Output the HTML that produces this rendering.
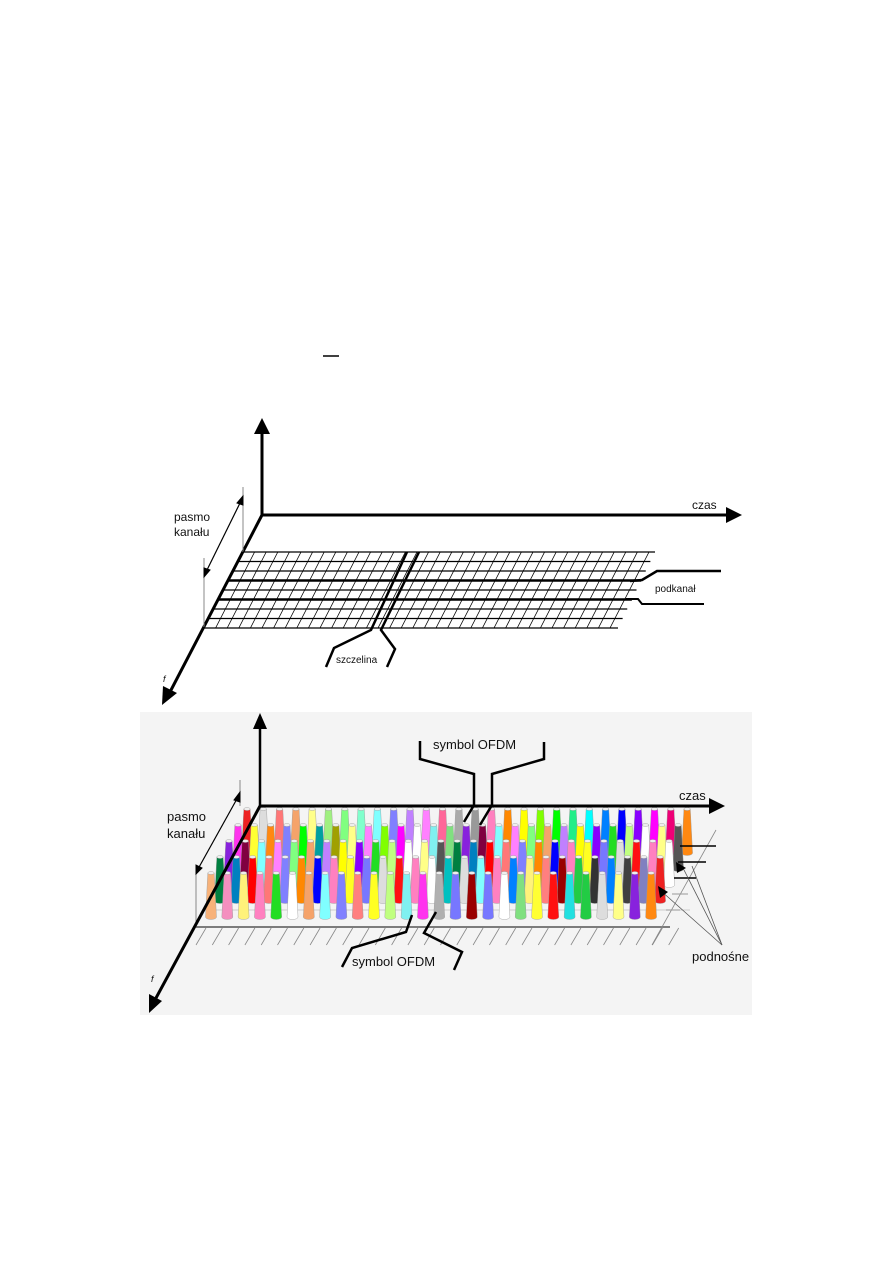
<!DOCTYPE html>
<html><head><meta charset="utf-8"><style>
html,body{margin:0;padding:0;background:#fff;}
svg{display:block;}
text{font-family:"Liberation Sans",sans-serif;fill:#111;}
</style></head><body>
<svg id="s" width="893" height="1263" xmlns="http://www.w3.org/2000/svg">
<line x1="323" y1="356" x2="339" y2="356" stroke="#000" stroke-width="1.5"/>
<!-- TOP DIAGRAM -->
<g id="top" stroke="#000" fill="none">
<line x1="262" y1="515" x2="262" y2="432" stroke-width="3"/>
<polygon points="262,418 254,434 270,434" fill="#000" stroke="none"/>
<line x1="262" y1="515" x2="728" y2="515" stroke-width="3"/>
<polygon points="742,515 726,507 726,523" fill="#000" stroke="none"/>
<line x1="262" y1="515" x2="170" y2="692" stroke-width="3"/>
<polygon points="162,705 163,686 177,693" fill="#000" stroke="none"/>
<line x1="243" y1="487" x2="243" y2="552" stroke="#888" stroke-width="1"/>
<line x1="204" y1="558" x2="204" y2="627" stroke="#888" stroke-width="1"/>
<line x1="241" y1="501" x2="206" y2="572" stroke-width="1.2"/>
<polygon points="243,496 237,503 243,505" fill="#000"/>
<polygon points="204,577 204,568 210,570" fill="#000"/>
<g id="grid"></g>
<polyline points="407,552 371,630 334,648 326,667" stroke-width="2.5"/>
<polyline points="419,552 381,630 395,649 387,667" stroke-width="2.5"/>
<polyline points="630,581 642,580 657,571 721,571" stroke-width="2.5"/>
<polyline points="626,599 638,599 642,604 704,604" stroke-width="2"/>
</g>
<text x="692" y="509" font-size="12">czas</text>
<text x="174" y="521" font-size="12">pasmo</text>
<text x="174" y="536" font-size="12">kanału</text>
<text x="655" y="592" font-size="10">podkanał</text>
<text x="336" y="663" font-size="10">szczelina</text>
<text x="163" y="682" font-size="9" font-style="italic">f</text>
<!-- BOTTOM DIAGRAM -->
<rect x="140" y="712" width="612" height="303" fill="#f4f4f4"/>
<g id="bot" stroke="#000" fill="none">
<g id="bgrid"></g>
<line x1="260" y1="806" x2="260" y2="728" stroke-width="2.5"/>
<polygon points="260,713 253,729 267,729" fill="#000" stroke="none"/>
<line x1="196" y1="873" x2="196" y2="927" stroke="#888" stroke-width="1"/>
<line x1="240" y1="780" x2="240" y2="806" stroke="#888" stroke-width="1"/>
<line x1="238" y1="797" x2="198" y2="869" stroke-width="1.2"/>
<polygon points="240,792 234,800 240,802" fill="#000"/>
<polygon points="196,874 196,865 202,868" fill="#000"/>
<g id="cones"></g>
<line x1="260" y1="806" x2="712" y2="806" stroke-width="3"/>
<polygon points="725,806 709,798 709,814" fill="#000" stroke="none"/>
<line x1="260" y1="806" x2="156" y2="998" stroke-width="3"/>
<polygon points="149,1013 149,994 162,1001" fill="#000" stroke="none"/>
<polyline points="420,741 420,759 474,774 474,805 464,822" stroke-width="2.5"/>
<polyline points="544,742 544,759 492,774 492,805 480,825" stroke-width="2.5"/>
<polyline points="412,915 406,932 352,948 342,967" stroke-width="2.5"/>
<polyline points="436,912 424,933 462,952 454,970" stroke-width="2.5"/>
<line x1="680" y1="846" x2="716" y2="846" stroke-width="1.5"/>
<line x1="678" y1="862" x2="706" y2="862" stroke-width="1.5"/>
<line x1="674" y1="878" x2="696" y2="878" stroke-width="1.5"/>
<line x1="672" y1="894" x2="688" y2="894" stroke="#999"/>
<line x1="666" y1="910" x2="680" y2="910" stroke="#999"/>
<line x1="722" y1="945" x2="682" y2="866" stroke="#555" stroke-width="0.8"/>
<line x1="722" y1="945" x2="692" y2="866" stroke="#555" stroke-width="0.8"/>
<line x1="722" y1="945" x2="660" y2="890" stroke="#555" stroke-width="0.8"/>
<polygon points="676,862 686,868 677,873" fill="#000" stroke="none"/>
<polygon points="658,886 668,892 660,898" fill="#000" stroke="none"/>
</g>
<text x="433" y="749" font-size="13">symbol OFDM</text>
<text x="352" y="966" font-size="13">symbol OFDM</text>
<text x="679" y="800" font-size="13">czas</text>
<text x="167" y="821" font-size="13">pasmo</text>
<text x="167" y="838" font-size="13">kanału</text>
<text x="692" y="961" font-size="13">podnośne</text>
<text x="151" y="982" font-size="9" font-style="italic">f</text>
</svg>
<script>
var NS="http://www.w3.org/2000/svg";
function el(p,t,a){var e=document.createElementNS(NS,t);for(var k in a)e.setAttribute(k,a[k]);p.appendChild(e);return e;}
var g=document.getElementById('grid');
var rows=9;
for(var i=0;i<rows;i++){
 var t=i/(rows-1);
 var y=552+t*76, xl=243-t*39, xr=655-t*37;
 el(g,'line',{x1:xl,y1:y,x2:xr,y2:y,'stroke-width':(i==3||i==5)?2.5:1.2});
}
for(var j=0;j<=35;j++){
 var xt=243+j*11.6;
 for(var i=0;i<rows-1;i++){
  var t1=i/(rows-1),t2=(i+1)/(rows-1);
  var y1=552+t1*76,y2=552+t2*76;
  var x1=xt-t1*39,x2=xt-t2*39;
  var rEnd=655-t2*37;
  if(x2>rEnd-3)continue;
  el(g,'line',{x1:x1,y1:y1,x2:x2,y2:y2,'stroke-width':0.8});
 }
}
var bg=document.getElementById('bgrid');
el(bg,'line',{x1:196,y1:927,x2:670,y2:927,stroke:'#555','stroke-width':1.5});
el(bg,'line',{x1:205,y1:910,x2:690,y2:910,stroke:'#ccc','stroke-width':1});
for(var j=0;j<30;j++){var x=200+j*16.3;el(bg,'line',{x1:x+6,y1:928,x2:x-4,y2:945,stroke:'#888','stroke-width':0.8});}
el(bg,'line',{x1:652,y1:945,x2:716,y2:830,stroke:'#888','stroke-width':0.8});
var cols=["#f7b27a","#f48fbf","#fff27a","#ff80c0","#22dd22","#ffffff","#f5a36a","#80ffff","#8080ff","#ff7f7f","#ffff22","#c0ff80","#80f0f0","#ff33ee","#b0b0b0","#7777ff","#990000","#7777ff","#ffffff","#80e080","#ffff33","#ff1111","#22e0e0","#22cc44","#dddddd","#ffff88","#8822dd","#ff8811","#f7b27a","#80c0ff",
"#333333","#ff1111","#555555","#800040","#8080ff","#ffff00","#000080","#0080ff","#ff80c0","#008040","#80ffff","#00ff00","#808000","#ff8000","#404040","#ffffff","#0080c0","#ff80ff","#00a0a0","#ffcc00","#ff0080","#8080c0","#00c0c0","#ff0000","#80ff80","#a0a000","#ff00ff","#c0c0c0",
"#ee2222","#dddddd","#ff7777","#f5a36a","#ffff88","#a0f080","#80ff80","#80ffcc","#80ffff","#8080ff","#c080ff","#ff80ff","#ff6699","#aaaaaa","#999999","#ff80c0","#ff8800","#ffff00","#80ff00","#00ff00","#22ee88","#00ffff","#0080ff","#0000ff","#8800ff","#ff00ff","#ee0077"];
function cone(p,x,yb,c){
 var h=44,wb=5.5,wt=3.2;
 el(p,'path',{d:'M'+(x-wt)+' '+(yb-h)+' L'+(x-wb)+' '+yb+' A'+wb+' 2.5 0 0 0 '+(x+wb)+' '+yb+' L'+(x+wt)+' '+(yb-h)+' Z',fill:c,stroke:'#999','stroke-width':0.4});
 el(p,'ellipse',{cx:x,cy:yb-h,rx:wt,ry:1.5,fill:'#eee',stroke:'#999','stroke-width':0.4});
}
var cg=document.getElementById('cones');
for(var r=0;r<5;r++){
 var yb=853+r*16, x0=247-r*9;
 for(var k=0;k<28;k++){
  var c=cols[(k*7+r*13)%cols.length];
  if(r==4)c=cols[k];
  if(r==0)c=cols[58+k]||cols[k];
  cone(cg,x0+k*16.3,yb,c);
 }
}
</script>
</body></html>
